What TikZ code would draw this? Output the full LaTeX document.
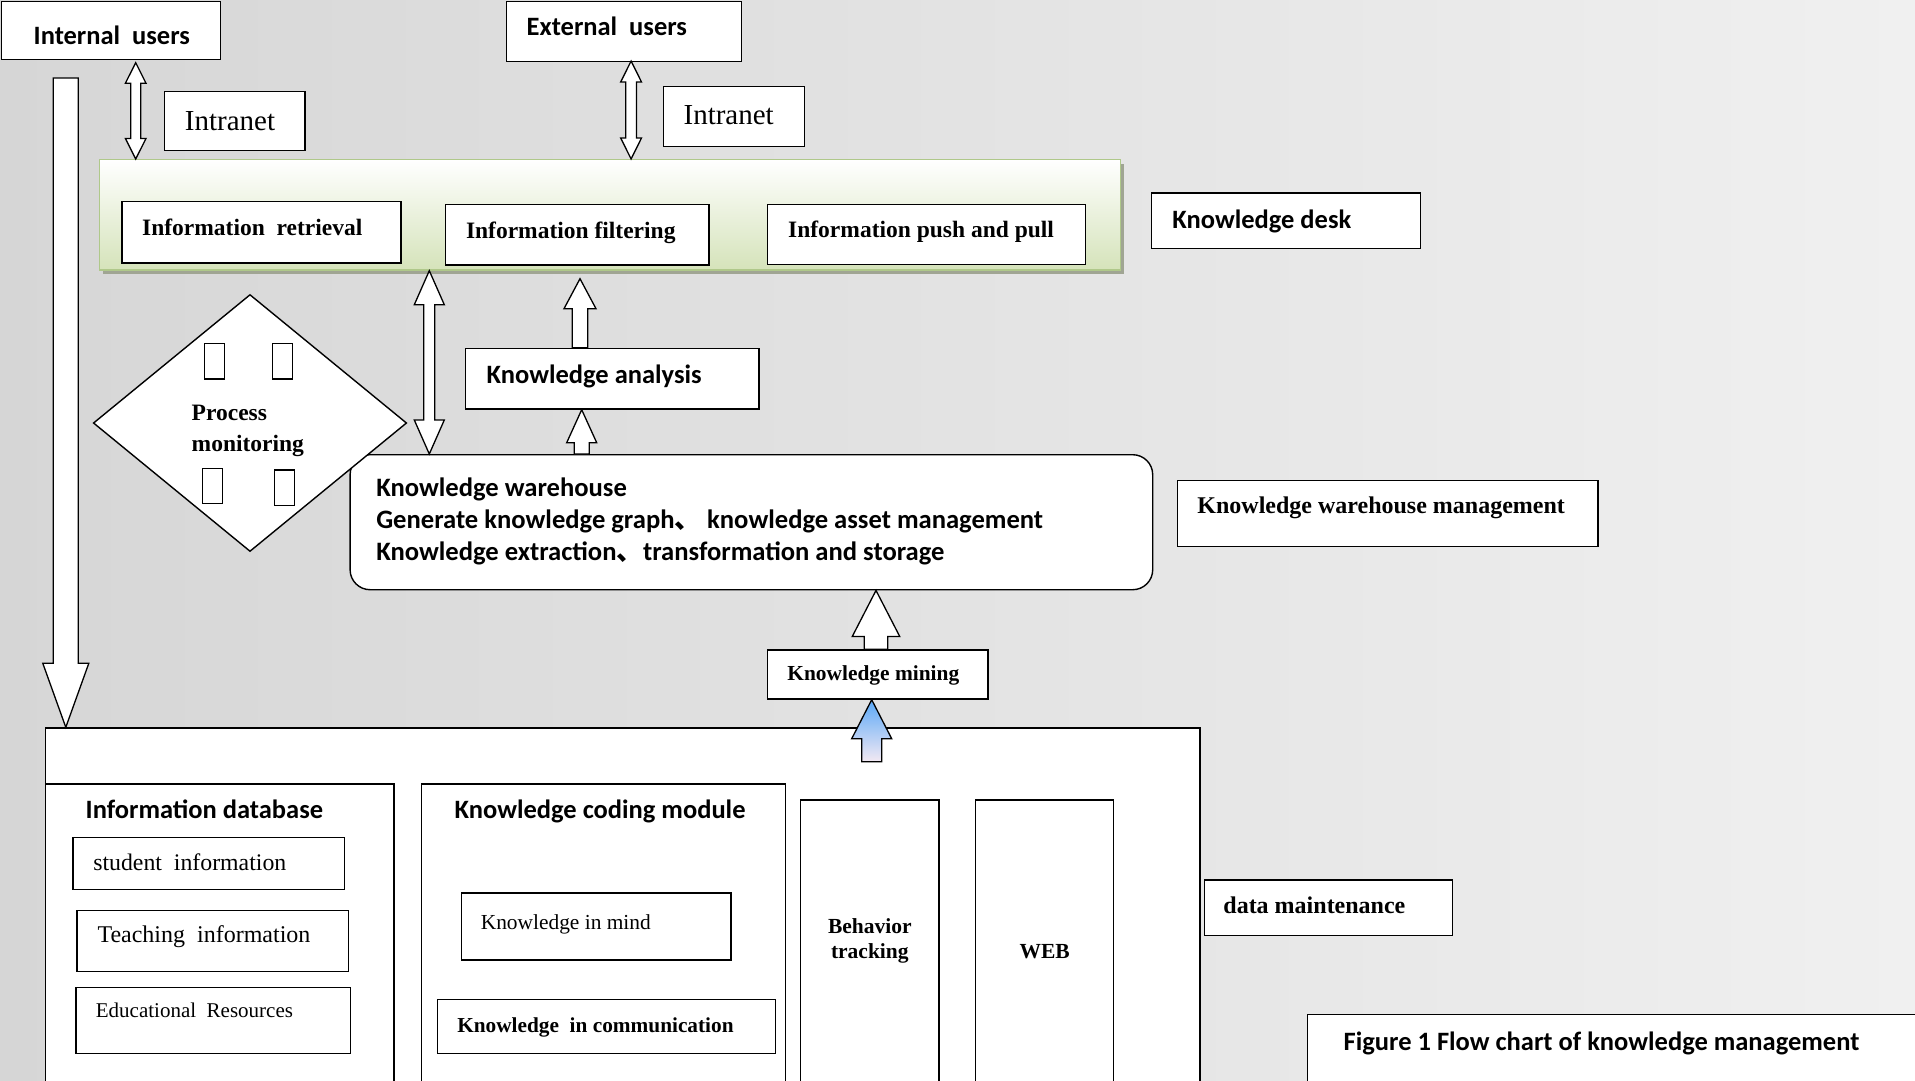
\documentclass[tikz,border=0pt]{standalone}
\usepackage{fontspec}
\usetikzlibrary{calc,shapes.geometric}
\newfontfamily\fcal{Carlito}
\newfontfamily\ftms{Liberation Serif}
\newfontfamily\fcjk{Noto Sans CJK SC}
\definecolor{bgL}{HTML}{D6D6D6}
\definecolor{bgR}{HTML}{F0F0F0}
\definecolor{pnlB}{HTML}{D5E3BA}
\definecolor{pnlD}{HTML}{AFC88A}
\definecolor{pnlS}{HTML}{A0A593}
\definecolor{arB}{HTML}{5AA8F7}
\definecolor{arP}{HTML}{F3E9F3}
\newcommand\tx[3]{\makebox[#1pt][l]{\raisebox{#2pt}[0pt][0pt]{#3}}}
\newcommand\txc[3]{\makebox[#1pt][c]{\raisebox{#2pt}[0pt][0pt]{#3}}}
\newcommand\cjkc{{\fcjk 、}}
\newcommand\blkup[6]{\path[#1] let \p1=(#2), \p2=(#3) in (\x1-#4,\y1) -- (\x1-#4,\y2-#6) -- (\x1-#5,\y2-#6) -- (\x1,\y2) -- (\x1+#5,\y2-#6) -- (\x1+#4,\y2-#6) -- (\x1+#4,\y1) -- cycle;}
\newcommand\blkdown[6]{\path[#1] let \p1=(#2), \p2=(#3) in (\x1-#4,\y1) -- (\x1-#4,\y2+#6) -- (\x1-#5,\y2+#6) -- (\x1,\y2) -- (\x1+#5,\y2+#6) -- (\x1+#4,\y2+#6) -- (\x1+#4,\y1) -- cycle;}
\newcommand\blkdbl[6]{\path[#1] let \p1=(#2), \p2=(#3) in (\x1,\y1) -- (\x1+#5,\y1-#6) -- (\x1+#4,\y1-#6) -- (\x1+#4,\y2+#6) -- (\x1+#5,\y2+#6) -- (\x1,\y2) -- (\x1-#5,\y2+#6) -- (\x1-#4,\y2+#6) -- (\x1-#4,\y1-#6) -- (\x1-#5,\y1-#6) -- cycle;}
\tikzset{
  box/.style={draw=black, fill=white, line width=1.4pt, inner sep=0pt, anchor=north west},
  sanst/.style={font=\fcal\bfseries\fontsize{26.5}{31}\selectfont},
  serb/.style={font=\ftms\bfseries\fontsize{#1}{#1}\selectfont},
  ser/.style={font=\ftms\fontsize{#1}{#1}\selectfont},
  barrow/.style={draw=black, fill=white, line width=1.3pt, line join=miter},
}
\begin{document}
\begin{tikzpicture}[x=1pt,y=-1pt]
\useasboundingbox (0,0) rectangle (1915,1080);
\clip (0,0) rectangle (1915,1080);
\fill[left color=bgL, right color=bgR] (0,0) rectangle (1915,1080);

% top users and intranet
\node[box, sanst, minimum width=219.3pt, minimum height=58.3pt] (iu) at (0.7,0.7) {\tx{154.7}{-13.45}{Internal\ \ users}};
\node[box, sanst, minimum width=235pt, minimum height=60.3pt] (eu) at (506,0.7) {\tx{195}{-3.45}{External\ \ users}};
\node[box, ser=29, minimum width=140.6pt, minimum height=59.3pt] (in1) at (163.8,90.7) {\tx{99.8}{-8.95}{Intranet}};
\node[box, ser=29, minimum width=141.1pt, minimum height=60pt] (in2) at (662.5,86) {\tx{100.3}{-8}{Intranet}};

% knowledge desk panel
\fill[pnlS] (103,164) rectangle (1124,274);
\node[anchor=north west, inner sep=0pt, minimum width=1021pt, minimum height=110.3pt, draw=pnlD, line width=1.4pt, top color=white, bottom color=pnlB] (panel) at (99,159) {};
\node[box, serb=23.5, minimum width=279.2pt, minimum height=61.3pt] (ir) at (121.2,201) {\tx{238.6}{-3.35}{Information\ \ retrieval}};
\node[box, serb=23.5, minimum width=263.2pt, minimum height=60.3pt] (if) at (445,204) {\tx{222.6}{-3.15}{Information filtering}};
\node[box, serb=23.5, minimum width=317.8pt, minimum height=60pt] (ipp) at (766.8,204) {\tx{276.4}{-2.7}{Information push and pull}};
\node[box, sanst, minimum width=269.3pt, minimum height=55.4pt] (kd) at (1150.7,192.3) {\tx{227.3}{-7.3}{Knowledge desk}};

% middle
\node[box, sanst, minimum width=293.3pt, minimum height=60.6pt] (ka) at (465,347.7) {\tx{251.3}{-4.7}{Knowledge analysis}};
\node[box, rounded corners=20pt, minimum width=802.6pt, minimum height=135pt, font=\fcal\bfseries\fontsize{26.6}{31.7}\selectfont] (wh) at (349.4,454) {\makebox[750.2pt][l]{\raisebox{-37.8pt}[0pt][0pt]{\parbox[b]{750.2pt}{Knowledge warehouse\\Generate knowledge graph\cjkc\ knowledge asset management\\Knowledge extraction\cjkc transformation and storage}}}};
\node[diamond, draw=black, fill=white, line width=1.4pt, minimum width=313.4pt, minimum height=257pt, inner sep=0pt, font=\ftms\bfseries\fontsize{23.5}{31.7}\selectfont] (pm) at (250,423) {\makebox[116.6pt][l]{\raisebox{-28.7pt}[0pt][0pt]{\parbox[b]{116.6pt}{Process\\monitoring}}}};
\draw[line width=1.3pt] (204.3,343.3) rectangle (224.3,379);
\draw[line width=1.3pt] (272.3,343.3) rectangle (292.3,379);
\draw[line width=1.3pt] (202.3,468.3) rectangle (222.3,503.3);
\draw[line width=1.3pt] (274.3,470) rectangle (294.3,505.7);
\node[box, serb=24, minimum width=420.6pt, minimum height=65.7pt] (whm) at (1176.7,480) {\tx{380.6}{0.55}{Knowledge warehouse management}};
\node[box, serb=21.4, minimum width=220.6pt, minimum height=49pt] (km) at (766.7,649.3) {\tx{180.6}{-5.5}{Knowledge mining}};

% bottom
\node[box, minimum width=1154.8pt, minimum height=370pt] (bb) at (44.5,727.3) {};
\node[box, sanst, minimum width=348.8pt, minimum height=311.7pt] (idb) at (44.5,783.3) {\tx{267.8}{121.15}{Information database}};
\node[box, sanst, minimum width=363.5pt, minimum height=311.7pt] (kcm) at (421,783.3) {\tx{297.5}{121.15}{Knowledge coding module}};
\node[box, ser=23.8, minimum width=271.4pt, minimum height=52.3pt] (si) at (72.2,836.7) {\tx{230.6}{-7.15}{student\ \ information}};
\node[box, ser=24, minimum width=271.4pt, minimum height=60.7pt] (ti) at (76.4,910) {\tx{230.6}{-1.35}{Teaching\ \ information}};
\node[box, ser=21, minimum width=274.6pt, minimum height=66pt] (er) at (75.3,986.7) {\tx{234.8}{3}{Educational\ \ Resources}};
\node[box, ser=21.4, minimum width=269.3pt, minimum height=67pt] (kim) at (460.8,892.3) {\tx{230.7}{-2.5}{Knowledge in mind}};
\node[box, serb=21.3, minimum width=337.9pt, minimum height=53.7pt] (kic) at (436.7,999) {\tx{298.1}{-5.85}{Knowledge\ \ in communication}};
\node[box, minimum width=138.3pt, minimum height=295.7pt, font=\ftms\bfseries\fontsize{21.5}{25}\selectfont] (bt) at (800,799.3) {\makebox[130pt][c]{\raisebox{-10.85pt}[0pt][0pt]{\parbox[b]{130pt}{\centering Behavior\\tracking}}}};
\node[box, serb=21.5, minimum width=138pt, minimum height=295.7pt] (web) at (975,799.3) {\txc{130}{-10.85}{WEB}};
\node[box, serb=24, minimum width=248.1pt, minimum height=55.7pt] (dm) at (1203.6,879.3) {\tx{209.9}{-5.55}{data maintenance}};
\node[box, sanst, minimum width=628pt, minimum height=90pt] (cap) at (1307,1014) {\tx{556}{9}{Figure 1 Flow chart of knowledge management}};

% arrows
\coordinate (a1) at (135.7,62.7);
\blkdbl{barrow}{a1}{panel.north}{5pt}{10.3pt}{20.5pt}
\coordinate (a2) at (631.1,61);
\blkdbl{barrow}{a2}{panel.north}{5.3pt}{10.4pt}{21pt}
\coordinate (a3) at (429.3,0);
\blkdbl{barrow}{a3 |- panel.south}{wh.north}{5.5pt}{15pt}{34pt}
\coordinate (a4) at (580,0);
\blkup{barrow}{a4 |- ka.north}{$(a4 |- panel.south)+(0,8)$}{7.8pt}{16pt}{30pt}
\coordinate (a5) at (581.7,0);
\blkup{barrow}{a5 |- wh.north}{a5 |- ka.south}{7.5pt}{15pt}{33pt}
\coordinate (a6) at (876,0);
\blkup{barrow}{a6 |- km.north}{a6 |- wh.south}{11.7pt}{23.7pt}{46pt}
\coordinate (a7) at (871.7,761.7);
\blkup{barrow, top color=arB, bottom color=arP}{a7}{a7 |- km.south}{10pt}{20pt}{39pt}
\coordinate (a8) at (65.8,78);
\blkdown{barrow}{a8}{a8 |- bb.north}{12.5pt}{23pt}{64pt}
\end{tikzpicture}
\end{document}
